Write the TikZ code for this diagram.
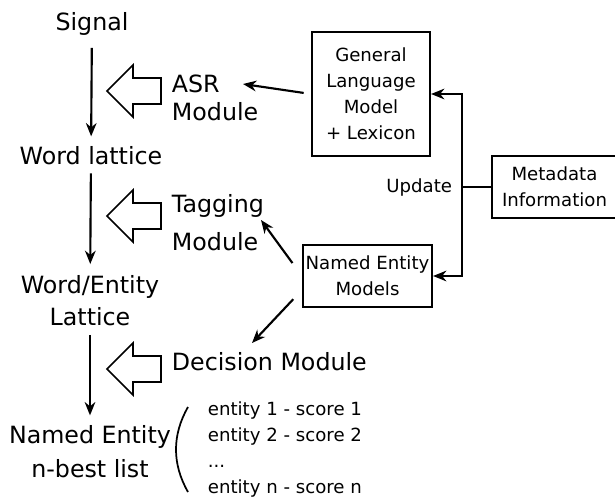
\documentclass[tikz,border=0pt]{standalone}
\usepackage{fontspec}
\setmainfont{DejaVu Sans}
\usetikzlibrary{arrows.meta,calc}

\tikzset{
  big/.style={font=\fontsize{17.8}{21}\selectfont, inner sep=2pt, align=center},
  small/.style={font=\fontsize{13.6}{19.5}\selectfont, inner sep=2pt, align=center},
  box/.style={small, draw, line width=1.6pt},
  flow/.style={-{Stealth[length=10pt,width=8pt]}, line width=1.6pt},
  link/.style={-{Stealth[length=10pt,width=8pt]}, line width=1.6pt},
  hollow/.style={draw, line width=1.2pt, line join=miter},
}

\begin{document}
\begin{tikzpicture}[x=0.75pt, y=-0.75pt]
  \useasboundingbox (0,0) rectangle (615,500);

  % processing chain (base = last line)
  \node[big, anchor=base] (signal) at (92,30) {Signal};
  \node[big, anchor=base] (wlat) at (91,164) {Word lattice};
  \node[big, anchor=base] (welat) at (90,325) {Word/Entity\\[3pt]Lattice};
  \node[big, anchor=base] (nbest) at (90,477) {Named Entity\\[4.5pt]n-best list};

  \draw[flow, shorten <=7.5pt, shorten >=5pt] (signal) -- (wlat);
  \draw[flow, shorten <=4.5pt, shorten >=6pt] (wlat) -- (welat);
  \draw[flow, shorten <=5pt, shorten >=5pt] (welat) -- (nbest);

  % hollow arrows for the modules
  \foreach \y in {91,216,369}
    \draw[hollow] (107,\y) -- ++(26,-26) -- ++(0,13) -- ++(28,0)
      -- ++(0,26) -- ++(-28,0) -- ++(0,13) -- cycle;

  \node[big, align=left, anchor=base west] (asr) at (169,120) {ASR\\Module};
  \node[big, align=left, anchor=base west] (tag) at (169,250) {Tagging\\[7pt]Module};
  \node[big, anchor=base west] (dec) at (169,370) {Decision Module};

  % models
  \node[box, minimum width=88.5pt, minimum height=93pt] (glm) at (371,94)
    {General\\Language\\Model\\+ Lexicon};
  \node[box, minimum width=95.25pt, minimum height=46.5pt] (ne) at (367.5,276)
    {Named Entity\\Models};
  \node[box, minimum width=93.75pt, minimum height=46.5pt] (meta) at (554.5,187)
    {Metadata\\Information};

  \coordinate (upd) at (462,187);
  \draw[line width=1.6pt] (meta) -- (upd);
  \draw[link] (upd) |- (glm);
  \draw[link] (upd) |- (ne);
  \node[small, anchor=east] (updlbl) at (455,187) {Update};

  \coordinate (asrin) at (243,84);
  \coordinate (tagin) at (261,220);
  \coordinate (decin) at (252,343);
  \draw[link, shorten <=5.5pt] (glm.west) -- (asrin);
  \draw[link, shorten <=12pt] (ne.west) -- (tagin);
  \draw[link, shorten <=9.5pt] ($(ne.west)+(0,14)$) -- (decin);

  % n-best output
  \draw[line width=1.3pt] (188,407) .. controls (172,435) and (172,464) .. (188,492);
  \node[small, align=left, anchor=base west] (ents) at (205,493)
    {entity 1 - score 1\\entity 2 - score 2\\...\\entity n - score n};
\end{tikzpicture}
\end{document}
